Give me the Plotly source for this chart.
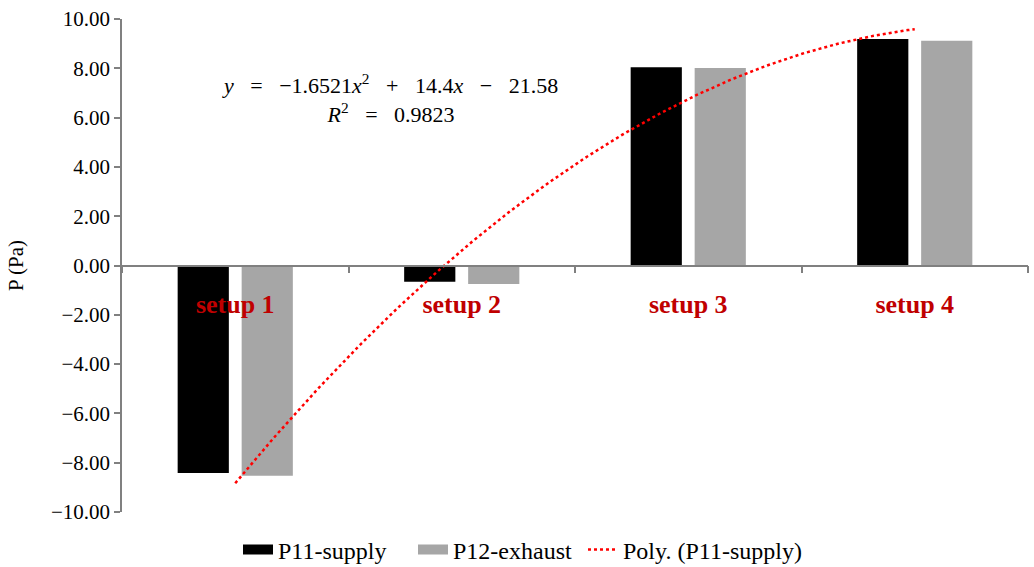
import numpy as np
import plotly.graph_objects as go

# Pressure readings per ventilation setup
setups = ["setup 1", "setup 2", "setup 3", "setup 4"]
p11_supply = [-8.42, -0.66, 8.04, 9.19]
p12_exhaust = [-8.53, -0.75, 8.01, 9.12]

# Second-order polynomial trend fitted to P11-supply (x = 1..4)
poly_coef = [-1.6521, 14.4, -21.58]
r_squared = 0.9823

y_ticks = [-10, -8, -6, -4, -2, 0, 2, 4, 6, 8, 10]

SERIF = "Liberation Serif"
AXIS_GREY = "#808080"
BLACK = "#000000"
GREY = "#A6A6A6"
RED = "#FF0000"

x_trend = np.linspace(1, len(setups), 200)
y_trend = np.polyval(poly_coef, x_trend)

fig = go.Figure()
fig.add_trace(go.Bar(
    x=setups, y=p11_supply, name="P11-supply", showlegend=False,
    marker=dict(color=BLACK, line=dict(width=0)),
))
fig.add_trace(go.Bar(
    x=setups, y=p12_exhaust, name="P12-exhaust", showlegend=False,
    marker=dict(color=GREY, line=dict(width=0)),
))
fig.add_trace(go.Scatter(
    x=x_trend, y=y_trend, name="Poly. (P11-supply)", mode="lines",
    line=dict(color=RED, width=2.5, dash="dot"),
    xaxis="x2", showlegend=False,
))

# Legend keys: wide swatches for the bars, dotted line for the trend
for name, color, width, dash, leg in [
    ("P11-supply", BLACK, 14, "solid", "legend"),
    ("P12-exhaust", GREY, 14, "solid", "legend"),
    ("Poly. (P11-supply)", RED, 2.5, "dot", "legend2"),
]:
    fig.add_trace(go.Scatter(
        x=[None], y=[None], mode="lines", name=name,
        line=dict(color=color, width=width, dash=dash),
        xaxis="x2", showlegend=True, legend=leg,
    ))

sp = " \u2002"
eq_text = (
    f"<i>y</i>{sp}={sp}−{abs(poly_coef[0])}<i>x</i><sup>2</sup>{sp}+{sp}{poly_coef[1]}<i>x</i>{sp}−{sp}{abs(poly_coef[2])}"
    f"<br><i>R</i><sup>2</sup>{sp}={sp}{r_squared}"
)
fig.add_annotation(
    text=eq_text, xref="paper", yref="paper",
    x=(390 - 122) / 906, y=(512 - 98) / 493,
    xanchor="center", yanchor="middle",
    showarrow=False, align="center",
    font=dict(family=SERIF, size=22, color=BLACK),
)

legend_common = dict(
    orientation="h", xanchor="left",
    y=-(550 - 512) / 493, yanchor="middle",
    font=dict(family=SERIF, size=24, color=BLACK),
    itemwidth=30, tracegroupgap=0,
)

fig.update_layout(
    width=1034, height=567,
    margin=dict(l=122, r=6, t=19, b=55, autoexpand=False),
    paper_bgcolor="white", plot_bgcolor="white",
    barmode="group", bargap=0.435, bargroupgap=0.2,
    font=dict(family=SERIF, color=BLACK),
    showlegend=True,
    legend=dict(
        x=(238 - 122) / 906, entrywidth=130, entrywidthmode="pixels",
        **legend_common,
    ),
    legend2=dict(x=(583 - 122) / 906, **legend_common),
    xaxis=dict(
        type="category", range=[-0.5, len(setups) - 0.5],
        anchor="free", position=0.5,
        showline=True, linecolor=AXIS_GREY, linewidth=1.5,
        ticks="outside", tickson="boundaries", ticklen=7, tickcolor=AXIS_GREY,
        tickwidth=1.5,
        tickfont=dict(family=SERIF, size=26, color="#C00000", weight="bold"),
        ticklabelstandoff=16,
        showgrid=False, zeroline=False,
    ),
    xaxis2=dict(
        overlaying="x", range=[0.5, len(setups) + 0.5], visible=False,
    ),
    yaxis=dict(
        range=[-10, 10], tickvals=y_ticks,
        ticktext=[f"{v:.2f}".replace("-", "−") for v in y_ticks],
        showline=True, linecolor=AXIS_GREY, linewidth=1.5,
        ticks="outside", ticklen=6, tickcolor=AXIS_GREY, tickwidth=1.5,
        tickfont=dict(family=SERIF, size=21, color=BLACK),
        showgrid=False, zeroline=False,
        title=dict(text="P (Pa)", font=dict(family=SERIF, size=21), standoff=22),
    ),
)

fig.write_html("out.html")
